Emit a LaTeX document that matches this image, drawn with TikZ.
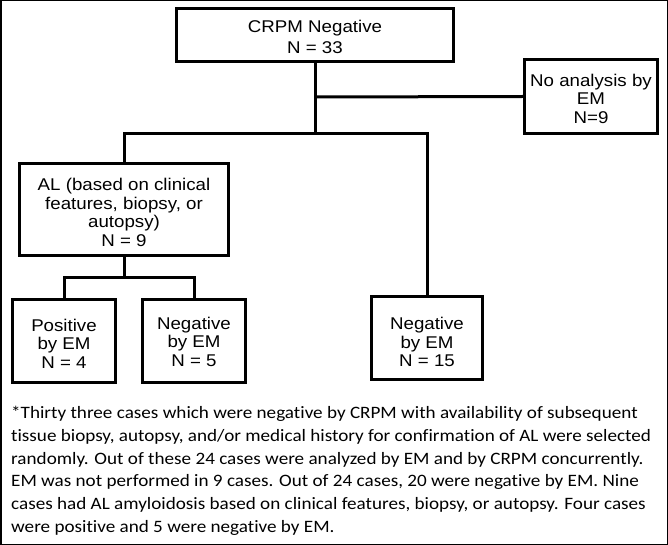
\documentclass[tikz,border=0pt]{standalone}
\usepackage{fontspec}
\newfontfamily\boxfont[FakeStretch=1.1]{Liberation Sans}
\newfontfamily\notefont[FakeStretch=1.1,Ligatures=NoCommon]{Carlito}
\begin{document}
\begin{tikzpicture}[x=1pt,y=-1pt,
  box/.style={draw,line width=3pt,inner sep=0pt},
  lbl/.style={inner sep=0pt,align=center,font=\boxfont\fontsize{17}{18.5}\selectfont},
  link/.style={line width=3pt}]
\useasboundingbox (0,0) rectangle (668,545);
\draw[line width=1.5pt] (0.75,0.75) rectangle (667.25,544.25);
% boxes
\node[box,minimum width=277pt,minimum height=53pt] (top) at (315,35) {};
\node[box,minimum width=133pt,minimum height=74pt] (noan) at (591,96.5) {};
\node[box,minimum width=209pt,minimum height=92pt] (al) at (124,209.5) {};
\node[box,minimum width=103pt,minimum height=83pt] (pos) at (64,341) {};
\node[box,minimum width=103pt,minimum height=83pt] (neg5) at (194,341) {};
\node[box,minimum width=111pt,minimum height=83pt] (neg15) at (427,338) {};
% labels
\node[lbl,font=\boxfont\fontsize{17}{21}\selectfont] (topt) at (315,36.5) {CRPM Negative\\N = 33};
\node[lbl] (noant) at (591,98.5) {No analysis by\\EM\\N=9};
\node[lbl] (alt) at (124,212.5) {AL (based on clinical\\features, biopsy, or\\autopsy)\\N = 9};
\node[lbl] (post) at (64,343.5) {Positive\\by EM\\N = 4};
\node[lbl] (neg5t) at (194,341.5) {Negative\\by EM\\N = 5};
\node[lbl] (neg15t) at (427,342) {Negative\\by EM\\N = 15};
% connectors
\coordinate (j1) at (315,97);
\coordinate (j2) at (315,133.5);
\coordinate (j3) at (124,277.5);
\draw[link] (top.south) -- (j2);
\draw[link] (j1) -- (noan.west);
\draw[link,line cap=rect] (al.north) |- (j2) -| (neg15.north);
\draw[link] (al.south) -- (j3);
\draw[link,line cap=rect] (pos.north) |- (j3) -| (neg5.north);
% footnote
\node[anchor=north west,align=left,inner sep=0pt,font=\notefont\fontsize{17.4}{22.8}\selectfont] (note) at (11,406) {*Thirty three cases which were negative by CRPM with availability of subsequent\\
tissue biopsy, autopsy, and/or medical history for confirmation of AL were selected\\
randomly. Out of these 24 cases were analyzed by EM and by CRPM concurrently.\\
EM was not performed in 9 cases. Out of 24 cases, 20 were negative by EM. Nine\\
cases had AL amyloidosis based on clinical features, biopsy, or autopsy. Four cases\\
were positive and 5 were negative by EM.};
\end{tikzpicture}
\end{document}
